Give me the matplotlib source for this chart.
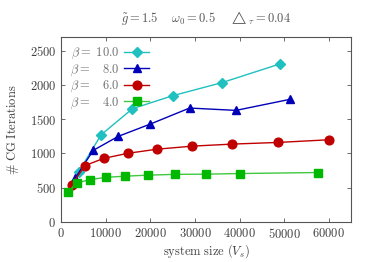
import matplotlib
matplotlib.use('Agg')
import matplotlib.pyplot as plt
from matplotlib.ticker import FuncFormatter

plt.rcParams['mathtext.fontset'] = 'cm'
plt.rcParams['font.family'] = 'serif'
plt.rcParams['font.serif'] = ['DejaVu Serif']

# system size V_s and CG iterations for each beta
vs_b10 = [4000, 9000, 16000, 25000, 36000, 49000]
cg_b10 = [735, 1272, 1652, 1842, 2032, 2305]
vs_b8 = [3200, 7200, 12800, 20000, 28800, 39200, 51200]
cg_b8 = [640, 1043, 1248, 1428, 1662, 1628, 1788]
vs_b6 = [2400, 5400, 9600, 15000, 21600, 29400, 38400, 48600, 60000]
cg_b6 = [543, 823, 928, 1002, 1062, 1106, 1136, 1160, 1199]
vs_b4 = [1600, 3600, 6400, 10000, 14400, 19600, 25600, 32400, 40000, 57600]
cg_b4 = [440, 570, 616, 650, 668, 683, 694, 697, 706, 721]

labels = [r'$\beta =\ 10.0$', r'$\beta =\ \ \ 8.0$', r'$\beta =\ \ \ 6.0$', r'$\beta =\ \ \ 4.0$']
xticks = [0, 10000, 20000, 30000, 40000, 50000, 60000]
yticks = [0, 500, 1000, 1500, 2000, 2500]

txt = '#404040'
fig = plt.figure(figsize=(3.74, 2.62), dpi=100)
ax = fig.add_axes([0.163, 0.153, 0.776, 0.706])

ax.plot(vs_b10, cg_b10, color='#20C0C0', marker='D', ms=4.8, lw=1, label=labels[0])
ax.plot(vs_b8, cg_b8, color='#0000B8', marker='^', ms=5.8, lw=1, label=labels[1])
ax.plot(vs_b6, cg_b6, color='#C00000', marker='o', ms=6.3, lw=1, label=labels[2])
ax.plot(vs_b4, cg_b4, color='#40C840', marker='s', ms=6, lw=1, mfc='#00B800', mec='#00B800', label=labels[3])

ax.set_xlim(0, 65000)
ax.set_ylim(0, 2700)
ax.set_xticks(xticks)
ax.set_yticks(yticks)
fmt = FuncFormatter(lambda v, p: r'$%d$' % v)
ax.xaxis.set_major_formatter(fmt)
ax.yaxis.set_major_formatter(fmt)
ax.tick_params(direction='in', top=True, right=True, length=3, width=0.6,
               labelsize=9, labelcolor=txt, colors='#555555')
for s in ax.spines.values():
    s.set_color('#555555')
    s.set_linewidth(0.8)

ax.set_xlabel(r'$\mathrm{system\ size\ }(V_s)$', fontsize=9, color=txt, labelpad=1)
ax.set_ylabel(r'$\#\ \mathrm{CG\ Iterations}$', fontsize=9, color=txt, labelpad=6)
fig.text(0.551, 0.93, r'$\tilde{g} = 1.5 \quad\ \omega_0 = 0.5 \quad\ \triangle_\tau = 0.04$',
         ha='center', va='center', fontsize=9, color='#555555')

leg = ax.legend(loc='upper left', frameon=False, markerfirst=False, fontsize=9,
                handlelength=2.0, labelspacing=0.1, borderaxespad=0.3, handletextpad=0.4)
for t in leg.get_texts():
    t.set_color('#707070')

fig.savefig('out.png', dpi=100)
